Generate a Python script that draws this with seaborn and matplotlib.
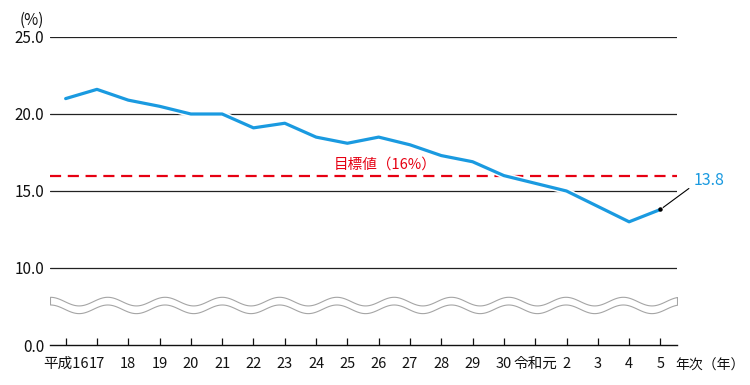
import matplotlib
matplotlib.use('Agg')
import matplotlib.pyplot as plt
import matplotlib.patheffects as pe
import numpy as np
import pandas as pd
import seaborn as sns

# Data
year_labels = ['平成16', '17', '18', '19', '20', '21', '22', '23', '24', '25',
               '26', '27', '28', '29', '30', '令和元', '2', '3', '4', '5']
rate = [21.0, 21.6, 20.9, 20.5, 20.0, 20.0, 19.1, 19.4, 18.5, 18.1,
        18.5, 18.0, 17.3, 16.9, 16.0, 15.5, 15.0, 14.0, 13.0, 13.8]
target = 16.0
ytick_vals = [5, 10, 15, 20, 25]          # 5 stands in for 0.0 (broken axis)
ytick_labels = ['0.0', '10.0', '15.0', '20.0', '25.0']

df = pd.DataFrame({'pos': range(len(year_labels)), 'rate': rate})

sns.set_theme(style='white')
plt.rcParams['font.family'] = ['Noto Sans CJK JP', 'DejaVu Sans']

blue = '#1a9ae0'
red = '#e60012'

fig = plt.figure(figsize=(7.5, 3.85), dpi=100)
ax = fig.add_axes([50 / 750, 1 - 345 / 385, 627 / 750, 308 / 385])

# horizontal rules
for y in ytick_vals[1:]:
    ax.axhline(y, color='#222222', lw=0.9, zorder=1)

# broken-axis wave band
xs = np.linspace(-0.5, 19.53, 800)
top = 7.85 + 0.28 * np.cos(2 * np.pi * (xs + 0.5) / 1.83)
bot = top - 0.5
ax.fill_between(xs, bot, top, facecolor='white', edgecolor='#a5a5a5', lw=0.8, zorder=2)

# target line
ax.axhline(target, color=red, lw=1.6, dashes=(5, 3), zorder=3)
ax.text(10.2, target + 0.7, '目標値（16%）', color=red, fontsize=10.5,
        ha='center', va='center', zorder=5)

# main series
sns.lineplot(data=df, x='pos', y='rate', ax=ax, color=blue, lw=2.3, zorder=4,
             path_effects=[pe.Stroke(linewidth=4.5, foreground='white'), pe.Normal()])

# last value callout
last = len(rate) - 1
ax.plot(last, rate[-1], 'o', color='black', ms=2.2, zorder=6)
ax.annotate(f'{rate[-1]:.1f}', xy=(last, rate[-1]), xytext=(20.05, 15.65),
            color=blue, fontsize=11.5, ha='left', va='center', annotation_clip=False,
            arrowprops=dict(arrowstyle='-', color='black', lw=0.8,
                            shrinkA=1, shrinkB=0, relpos=(0, 0.25)))

ax.set_xlim(-0.5, 19.53)
ax.set_ylim(5, 25)
ax.set_xticks(range(len(year_labels)))
ax.set_xticklabels(year_labels, fontsize=10.5, color='#111111')
ax.set_yticks(ytick_vals)
ax.set_yticklabels(ytick_labels, fontsize=11, color='#111111')
ax.set_xlabel('')
ax.set_ylabel('')

for s in ['top', 'right', 'left']:
    ax.spines[s].set_visible(False)
ax.spines['bottom'].set_color('#111111')
ax.spines['bottom'].set_linewidth(1.0)
ax.tick_params(axis='x', direction='in', length=5, width=0.9, color='#111111', pad=8.5, bottom=True)
ax.tick_params(axis='y', length=0, pad=4)

fig.text(32 / 750, 1 - 20 / 385, '(%)', fontsize=11, ha='center', va='center', color='#111111')
fig.text(675 / 750, 1 - 366 / 385, '年次（年）', fontsize=10, ha='left', va='center', color='#111111')

fig.savefig('out.png', dpi=100, facecolor='white')
